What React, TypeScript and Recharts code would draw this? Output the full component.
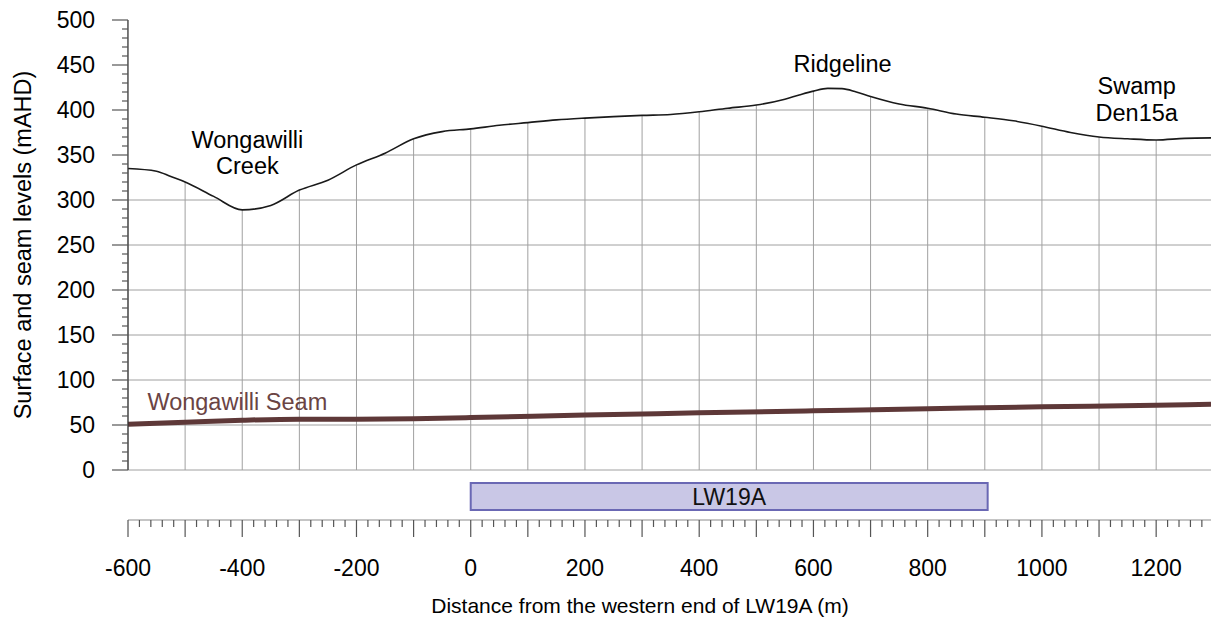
import React from 'react';
import {
  ComposedChart,
  Line,
  Area,
  XAxis,
  YAxis,
  CartesianGrid,
  ReferenceDot,
  ReferenceArea,
  Label,
} from 'recharts';

const FONT = '"Liberation Sans", Arial, Helvetica, sans-serif';

// Surface profile (m AHD) along the section, distance from western end of LW19A (m)
const distance = [
  -600, -550, -525, -500, -450, -400, -350, -300, -250, -200, -150, -100, -50, 0, 50, 100,
  150, 200, 250, 300, 350, 400, 450, 500, 550, 575, 600, 625, 650, 675, 700, 750, 800, 850,
  900, 950, 1000, 1050, 1100, 1150, 1200, 1250, 1296,
];
const surfaceLevel = [
  335, 332, 326, 320, 304, 289, 294, 311, 322, 339, 352, 368, 376, 379, 383, 386,
  389, 391, 392.6, 394, 395, 398, 402, 405.5, 412, 416.7, 421, 424, 423.7, 420, 415, 406.7, 402, 395.5,
  392, 388, 382, 375, 370, 368, 366.7, 368.5, 369,
];

// Wongawilli Seam level
const seamDistance = [-600, -500, -400, -300, -200, -100, 0, 200, 400, 600, 800, 1000, 1200, 1296];
const seamLevel = [50.7, 53, 55.3, 56.5, 56.5, 57, 58.2, 61, 63.5, 65.8, 68, 70.2, 72, 73];

// Axis ticks
const yMajorTicks = [0, 50, 100, 150, 200, 250, 300, 350, 400, 450, 500];
const yMinorStep = 10;
const gridLevels = [0, 50, 100, 150, 200, 250, 300, 350, 400, 450];
const gridDistances = [-600, -500, -400, -300, -200, -100, 0, 100, 200, 300, 400, 500, 600, 700, 800, 900, 1000, 1100, 1200];
const xLabelTicks = [-600, -400, -200, 0, 200, 400, 600, 800, 1000, 1200];
const xMinorStep = 20;
const xDomain: [number, number] = [-600, 1296];
const yDomain: [number, number] = [0, 500];
const yTop = 500;

// Panel
const panelName = 'LW19A';
const panelStart = 0;
const panelEnd = 905;

// Annotations
const annotations = [
  { x: -391, y: 353, lines: ['Wongawilli', 'Creek'] },
  { x: 651, y: 452, lines: ['Ridgeline'] },
  { x: 1166, y: 412, lines: ['Swamp', 'Den15a'] },
];
const seamLabel = { x: -566, y: 76, text: 'Wongawilli Seam' };

const yTicks: number[] = [];
for (let v = yDomain[0]; v <= yDomain[1]; v += yMinorStep) yTicks.push(v);
const xTicks: number[] = [];
for (let v = xDomain[0]; v <= xDomain[1]; v += xMinorStep) xTicks.push(v);

const surfaceData = distance.map((x, i) => ({ x, surface: surfaceLevel[i] }));
const seamData = seamDistance.map((x, i) => ({ x, seam: seamLevel[i] }));
const bandData = [
  { x: xDomain[0], band: 0 },
  { x: xDomain[1], band: 1 },
];

const FS = 23;
const FS_ANN = 23.5;

const YTick = (props: any) => {
  const { x, y, payload } = props;
  const v = payload.value;
  const major = yMajorTicks.includes(v);
  return (
    <g>
      <line x1={x - (major ? 16 : 6)} x2={x} y1={y} y2={y} stroke="#555" strokeWidth={1.2} />
      {major && (
        <text x={x - 33} y={y} dy="0.36em" textAnchor="end" fontFamily={FONT} fontSize={FS} fill="#000">
          {v}
        </text>
      )}
    </g>
  );
};

const XTick = (props: any) => {
  const { x, y, payload } = props;
  const v = payload.value;
  const major = v % 100 === 0;
  const labeled = xLabelTicks.includes(v);
  return (
    <g>
      <line x1={x} x2={x} y1={y} y2={y + (major ? 17 : 7)} stroke="#555" strokeWidth={1.2} />
      {labeled && (
        <text x={x} y={y + 48} dy="0.36em" textAnchor="middle" fontFamily={FONT} fontSize={FS} fill="#000">
          {v}
        </text>
      )}
    </g>
  );
};

const AnnotationShape = (lines: string[], anchor: 'middle' | 'start', color: string, fs: number) => (p: any) => {
  const { cx, cy } = p;
  const lh = 26.5;
  const start = cy - ((lines.length - 1) * lh) / 2;
  return (
    <text textAnchor={anchor} fontFamily={FONT} fontSize={fs} fill={color}>
      {lines.map((l, i) => (
        <tspan key={i} x={cx} y={start + i * lh} dy="0.36em">
          {l}
        </tspan>
      ))}
    </text>
  );
};

export default function App() {
  return (
    <div style={{ position: 'absolute', left: 0, top: 0, width: 1211, height: 619, background: '#fff' }}>
      <div style={{ position: 'absolute', left: 0, top: 0 }}>
        <ComposedChart
          width={1211}
          height={500}
          data={surfaceData}
          margin={{ top: 20, right: 0, bottom: 30, left: 0 }}
        >
          <CartesianGrid
            stroke="#a0a0a0"
            strokeWidth={1}
            horizontalValues={gridLevels}
            verticalValues={gridDistances}
          />
          <XAxis type="number" dataKey="x" domain={xDomain} hide allowDataOverflow />
          <YAxis
            type="number"
            domain={yDomain}
            ticks={yTicks}
            interval={0}
            width={128}
            tickLine={false}
            tickSize={0}
            tickMargin={0}
            axisLine={{ stroke: '#333', strokeWidth: 1.2 }}
            tick={YTick}
            allowDataOverflow
          >
            <Label
              content={(p: any) => {
                const vb = p.viewBox;
                const cx = vb.x + 23;
                const cy = vb.y + vb.height / 2;
                return (
                  <text
                    x={cx}
                    y={cy}
                    transform={`rotate(-90 ${cx} ${cy})`}
                    textAnchor="middle"
                    dy="0.36em"
                    fontFamily={FONT}
                    fontSize={23.5}
                    fill="#000"
                  >
                    Surface and seam levels (mAHD)
                  </text>
                );
              }}
            />
          </YAxis>
          <Area
            dataKey={(d: any) => [d.surface, yTop]}
            type="monotone"
            fill="#fff"
            fillOpacity={1}
            stroke="none"
            dot={false}
            activeDot={false}
            isAnimationActive={false}
          />
          <Line
            dataKey="surface"
            type="monotone"
            stroke="#1a1a1a"
            strokeWidth={1.6}
            dot={false}
            activeDot={false}
            isAnimationActive={false}
          />
          <Line
            data={seamData}
            dataKey="seam"
            type="monotone"
            stroke="#5e3838"
            strokeWidth={5}
            dot={false}
            activeDot={false}
            isAnimationActive={false}
          />
          {annotations.map((a, i) => (
            <ReferenceDot
              key={i}
              x={a.x}
              y={a.y}
              r={0}
              shape={AnnotationShape(a.lines, 'middle', '#000', FS_ANN)}
            />
          ))}
          <ReferenceDot
            x={seamLabel.x}
            y={seamLabel.y}
            r={0}
            shape={AnnotationShape([seamLabel.text], 'start', '#6a4444', FS_ANN)}
          />
        </ComposedChart>
      </div>
      <div style={{ position: 'absolute', left: 0, top: 480 }}>
        <ComposedChart
          width={1211}
          height={139}
          data={bandData}
          margin={{ top: 0, right: 0, bottom: 0, left: 128 }}
        >
          <XAxis
            type="number"
            dataKey="x"
            domain={xDomain}
            ticks={xTicks}
            interval={0}
            height={99}
            tickLine={false}
            tickSize={0}
            tickMargin={0}
            axisLine={{ stroke: '#8c8c8c', strokeWidth: 1.2 }}
            tick={XTick}
            allowDataOverflow
          >
            <Label
              content={(p: any) => {
                const vb = p.viewBox;
                return (
                  <text
                    x={640}
                    y={vb.y + 85}
                    dy="0.36em"
                    textAnchor="middle"
                    fontFamily={FONT}
                    fontSize={21}
                    fill="#000"
                  >
                    Distance from the western end of LW19A (m)
                  </text>
                );
              }}
            />
          </XAxis>
          <YAxis type="number" dataKey="band" domain={[0, 1]} hide allowDataOverflow />
          <Line
            dataKey="band"
            stroke="none"
            dot={false}
            activeDot={false}
            isAnimationActive={false}
          />
          <ReferenceArea
            x1={panelStart}
            x2={panelEnd}
            y1={0.25}
            y2={0.925}
            ifOverflow="visible"
            fill="#c9c7e6"
            fillOpacity={1}
            stroke="#6a68b4"
            strokeWidth={2}
            label={{ value: panelName, position: 'center', fill: '#111', fontSize: FS, fontFamily: FONT }}
          />
        </ComposedChart>
      </div>
    </div>
  );
}
